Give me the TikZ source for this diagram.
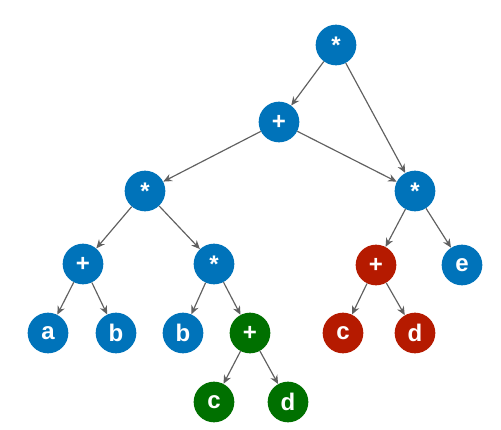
\documentclass[tikz,border=0pt]{standalone}
\usepackage{fontspec}
\setmainfont{Liberation Sans}
\usepackage{tikz}
\usetikzlibrary{arrows.meta, positioning}
\definecolor{opblue}{HTML}{0073BA}
\definecolor{opred}{HTML}{B51A00}
\definecolor{opgreen}{HTML}{007000}
\definecolor{edgegray}{HTML}{606060}

\begin{document}
\begin{tikzpicture}[
  on grid,
  leaf/.style={circle, minimum size=1.22cm, inner sep=0pt, text=white, font=\fontsize{20.5}{24}\selectfont\bfseries},
  bnode/.style={leaf, fill=opblue},
  rnode/.style={leaf, fill=opred},
  gnode/.style={leaf, fill=opgreen},
  arrow/.style={-{Stealth[length=2.6mm, width=2.3mm]}, line width=1pt, draw=edgegray}
]
\useasboundingbox (0,0) rectangle (15.03,-12.9);

% Root
\node[bnode] (root) at (10.08,-1.35) {*};
\node[bnode, below left=2.31cm and 1.71cm of root] (sum) {+};

% Left product
\node[bnode, below left=2.07cm and 4.02cm of sum] (prodl) {*};
\node[bnode, below left=2.19cm and 1.86cm of prodl] (suml) {+};
\node[bnode, below right=2.19cm and 2.07cm of prodl] (prodm) {*};
\node[bnode, below left=2.07cm and 1.05cm of suml] (a) {a};
\node[bnode, below right=2.07cm and 0.99cm of suml] (b1) {b};
\node[bnode, below left=2.07cm and 0.93cm of prodm] (b2) {b};
\node[gnode, below right=2.07cm and 1.08cm of prodm] (sumg) {+};
\node[gnode, below left=2.07cm and 1.08cm of sumg] (cg) {c};
\node[gnode, below right=2.07cm and 1.14cm of sumg] (dg) {d};

% Right product
\node[bnode, below right=2.07cm and 4.08cm of sum] (prodr) {*};
\node[rnode, below left=2.22cm and 1.17cm of prodr] (sumr) {+};
\node[bnode, below right=2.22cm and 1.41cm of prodr] (e) {e};
\node[rnode, below left=2.04cm and 0.99cm of sumr] (cr) {c};
\node[rnode, below right=2.04cm and 1.17cm of sumr] (dr) {d};

% Edges
\draw[arrow] (root) -- (sum);
\draw[arrow] (root) -- (prodr);
\draw[arrow] (sum) -- (prodl);
\draw[arrow] (sum) -- (prodr);
\draw[arrow] (prodl) -- (suml);
\draw[arrow] (prodl) -- (prodm);
\draw[arrow] (suml) -- (a);
\draw[arrow] (suml) -- (b1);
\draw[arrow] (prodm) -- (b2);
\draw[arrow] (prodm) -- (sumg);
\draw[arrow] (sumg) -- (cg);
\draw[arrow] (sumg) -- (dg);
\draw[arrow] (prodr) -- (sumr);
\draw[arrow] (prodr) -- (e);
\draw[arrow] (sumr) -- (cr);
\draw[arrow] (sumr) -- (dr);

\end{tikzpicture}
\end{document}
